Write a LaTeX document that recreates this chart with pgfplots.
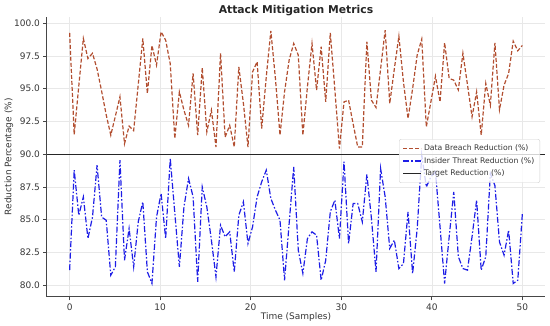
\documentclass[border=0pt]{standalone}
\usepackage{fontspec}
\setmainfont{DejaVu Sans}
\usepackage{pgfplots}
\usepackage{pgfplotstable}
\pgfplotsset{compat=1.18}
\definecolor{breach}{RGB}{178,78,48}
\definecolor{insider}{RGB}{30,30,230}
\definecolor{spine}{RGB}{70,70,70}
\definecolor{txt}{RGB}{55,55,55}

\pgfplotstableread{
x breach insider
0 99.26 81.15
0.505 91.5 88.78
1.010 95.2 85.34
1.515 98.83 86.74
2.020 97.3 83.56
2.525 97.7 85.2
3.030 96.5 89.16
3.535 94.8 85.2
4.040 93.0 84.96
4.545 91.45 80.76
5.051 92.9 81.4
5.556 94.38 89.54
6.061 90.8 81.9
6.566 92.14 84.33
7.071 91.8 81.4
7.576 95.3 84.83
8.081 98.83 86.36
8.586 94.63 81.02
9.091 98.3 80.13
9.596 96.8 85.2
10.101 99.34 87.0
10.606 98.7 83.56
11.111 96.9 89.67
11.616 91.2 85.5
12.121 94.76 81.4
12.626 93.36 85.97
13.131 92.2 88.14
13.636 96.16 86.74
14.141 91.45 80.25
14.646 96.6 87.5
15.152 91.7 85.97
15.657 93.36 83.44
16.162 90.55 80.63
16.667 97.7 84.58
17.172 91.3 83.69
17.677 92.2 84.07
18.182 90.55 81.02
18.687 96.66 85.34
19.192 93.87 86.36
19.697 90.55 83.18
20.202 96.28 84.45
20.707 97.05 86.74
21.212 91.96 87.89
21.717 95.9 88.78
22.222 99.41 86.62
22.727 95.78 85.73
23.232 91.45 84.96
23.737 94.76 80.38
24.242 97.18 84.7
24.747 98.45 89.03
25.253 97.56 82.67
25.758 91.45 80.9
26.263 95.14 83.56
26.768 98.45 84.07
27.273 94.89 83.82
27.778 98.2 80.38
28.283 93.99 81.9
28.788 99.26 85.6
29.293 94.9 86.49
29.798 90.43 83.56
30.303 93.99 89.42
30.808 94.12 83.18
31.313 92.3 86.23
31.818 90.55 86.23
32.323 90.55 84.83
32.828 98.58 88.45
33.333 94.12 85.09
33.838 93.56 81.02
34.343 96.5 88.91
34.848 99.47 86.74
35.354 93.87 82.8
35.859 96.5 83.44
36.364 99.0 81.27
36.869 95.5 81.65
37.374 92.72 85.6
37.879 95.0 80.89
38.384 97.56 84.3
38.889 98.78 89.92
39.394 92.08 87.5
39.899 94.0 88.27
40.404 95.95 88.65
40.909 93.99 84.45
41.414 98.5 80.13
41.919 95.78 83.7
42.424 95.65 87.12
42.929 94.9 82.18
43.434 97.7 81.27
43.939 95.3 81.15
44.444 92.85 83.7
44.949 94.76 86.49
45.455 91.45 81.15
45.960 95.4 82.18
46.465 93.74 88.53
46.970 98.5 87.6
47.475 93.4 83.3
47.980 95.27 82.29
48.485 96.16 84.2
48.990 98.63 80.13
49.495 97.89 80.38
50 98.3 85.47
}\datatable

\begin{document}
\begin{tikzpicture}[x=1pt,y=1pt]
\useasboundingbox (-47,-29) rectangle (503,297);
\begin{axis}[
  at={(0,0)}, anchor=south west,
  scale only axis, width=498pt, height=280.4pt,
  xmin=-2.5, xmax=52.5, ymin=79.1, ymax=100.5,
  axis x line*=bottom, axis y line*=left,
  axis line style={spine, line width=1pt},
  xtick={0,10,20,30,40,50},
  ytick={80,82.5,85,87.5,90,92.5,95,97.5,100},
  yticklabel style={/pgf/number format/.cd, fixed, fixed zerofill, precision=1},
  /pgf/number format/assume math mode=true,
  tick align=outside, major tick length=3.5pt,
  tick style={spine, line width=0.8pt},
  ticklabel style={font=\fontsize{9}{10}\selectfont, text=txt},
  grid=major, major grid style={gray!18, line width=0.6pt},
  title={Attack Mitigation Metrics},
  title style={font=\fontsize{10.8}{12}\selectfont\bfseries, text=black!85, at={(axis description cs:0.5,1.0128)}, anchor=base, yshift=-6pt},
  xlabel={Time (Samples)},
  xlabel style={font=\fontsize{9}{10}\selectfont, text=txt, at={(axis description cs:0.5,-0.0802)}, anchor=base},
  ylabel={Reduction Percentage (\%)},
  ylabel style={font=\fontsize{9}{10}\selectfont, text=txt, at={(axis description cs:-0.0713,0.5)}, anchor=base},
  legend style={at={(axis description cs:0.99,0.485)}, anchor=east,
    font=\fontsize{7.7}{9}\selectfont, text=txt, draw=gray!35, fill=white, fill opacity=0.8, text opacity=1,
    rounded corners=2pt, inner sep=3.5pt, row sep=1.2pt},
  legend cell align=left,
  legend image code/.code={\draw[#1] (0pt,0pt) -- (18pt,0pt);},
]
\addplot[breach, line width=1.2pt, dash pattern=on 4pt off 2pt] table[x=x, y=breach] {\datatable};
\addlegendentry{Data Breach Reduction (\%)}
\addplot[insider, line width=1.2pt, dash pattern=on 6pt off 2pt on 1.5pt off 2pt] table[x=x, y=insider] {\datatable};
\addlegendentry{Insider Threat Reduction (\%)}
\addplot[black!85, line width=1.3pt] coordinates {(-2.5,90) (52.5,90)};
\addlegendentry{Target Reduction (\%)}
\end{axis}
\end{tikzpicture}
\end{document}
